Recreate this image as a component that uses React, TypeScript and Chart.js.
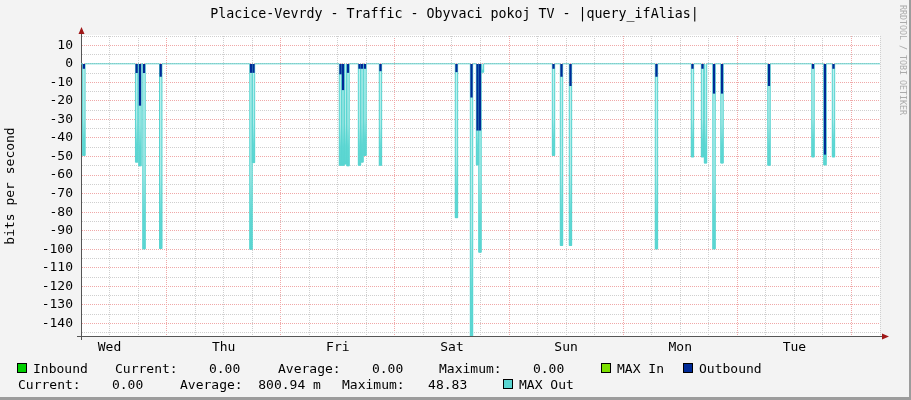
import React, { useEffect, useRef } from 'react';
import { Chart, registerables } from 'chart.js';

Chart.register(...registerables);

// ---------- data ----------
const titleText = 'Placice-Vevrdy - Traffic - Obyvaci pokoj TV - |query_ifAlias|';
const yAxisTitle = 'bits per second';
const watermark = 'RRDTOOL / TOBI OETIKER';
const dayLabels = ['Wed', 'Thu', 'Fri', 'Sat', 'Sun', 'Mon', 'Tue'];

// time axis in hours since Wednesday 00:00
const xMinHours = 6;
const xMaxHours = 174;
const rrdStepHours = 0.5;
const yMin = -146.8;
const yMax = 15;

// hours of the 30-minute samples that carry traffic (all other samples are 0)
const spikeHours = [
  6.6, 17.7, 18.4, 19.25, 22.76,
  41.74, 42.27,
  60.56, 61.09, 61.61, 62.14, 64.56, 65.08, 65.71, 68.97,
  84.95, 88.11, 89.37, 89.89, 90.42,
  105.35, 107.03, 108.92,
  127.0, 134.57, 136.68, 137.31, 139.1, 140.78,
  150.66, 159.91, 162.43, 164.22,
];
// MAX Out (plotted downward), bits per second
const maxOutValues = [
  49.4, 53, 55, 99.8, 99.6,
  100, 53.3,
  54.7, 54.7, 54, 55, 54.7, 53, 49.4, 54.7,
  83, 150, 54.5, 101.6, 4.5,
  49.4, 98, 98,
  99.8, 50.2, 50.2, 53.5, 99.8, 53.5,
  54.7, 50.2, 54.5, 50.2,
];
// Outbound average (plotted downward), bits per second
const outboundValues = [
  2.5, 4.8, 22.4, 4.8, 6.8,
  4.7, 4.7,
  5.5, 14, 0, 4.7, 2.5, 2.5, 2.5, 3.8,
  4.3, 18, 35.8, 35.8, 0,
  2.5, 6.8, 11.8,
  6.8, 2.5, 2.5, 0, 15.9, 15.9,
  11.8, 2.5, 48.8, 2.5,
];

const inboundStats = { current: '0.00', average: '0.00', maximum: '0.00' };
const outboundStats = { current: '0.00', average: '800.94 m', maximum: '48.83' };

// ---------- styles ----------
const MONO = "'DejaVu Sans Mono', monospace";
const C_IN = '#00CF00';
const C_MAXIN = '#7CE000';
const C_OUT = '#002A97';
const C_MAXOUT = '#5AD5D1';
const C_MAXOUT_PALE = '#B2EDEB';
const GRID_MAJOR = '#F0A8A8';
const GRID_MINOR = '#CFCFCF';
const AXIS = '#555555';

const pad = (s: string, n: number) => (s.length >= n ? s : ' '.repeat(n - s.length) + s);

export default function App() {
  const ref = useRef<HTMLCanvasElement | null>(null);

  useEffect(() => {
    document.body.style.margin = '0';
    const canvas = ref.current;
    if (!canvas) return;

    const maxOutBars = spikeHours.map((h, i) => ({ x: h, y: -maxOutValues[i] }));
    const outBars = spikeHours
      .map((h, i) => ({ x: h, y: -outboundValues[i] }))
      .filter((p) => p.y !== 0);
    const maxOutLine: { x: number; y: number }[] = [{ x: xMinHours, y: 0 }];
    spikeHours.forEach((h, i) => {
      maxOutLine.push({ x: h - rrdStepHours / 2, y: -maxOutValues[i] });
      maxOutLine.push({ x: h + rrdStepHours / 2, y: 0 });
    });
    maxOutLine.push({ x: xMaxHours, y: 0 });

    const plotBg = {
      id: 'plotBg',
      beforeDraw(chart: any) {
        const { ctx, chartArea: a } = chart;
        ctx.save();
        ctx.fillStyle = '#ffffff';
        ctx.fillRect(a.left, a.top - 1, a.right - a.left, a.bottom - a.top + 1);
        ctx.restore();
      },
    };

    const arrows = {
      id: 'arrows',
      afterDraw(chart: any) {
        const { ctx, chartArea: a } = chart;
        const xl = Math.round(a.left) + 0.5;
        const yb = Math.round(a.bottom) + 0.5;
        ctx.save();
        ctx.strokeStyle = AXIS;
        ctx.lineWidth = 1;
        ctx.beginPath();
        ctx.moveTo(xl, a.top);
        ctx.lineTo(xl, a.top - 4);
        ctx.moveTo(xl, a.bottom);
        ctx.lineTo(xl, a.bottom + 4);
        ctx.moveTo(a.left - 4, yb);
        ctx.lineTo(a.left, yb);
        ctx.moveTo(a.right, yb);
        ctx.lineTo(a.right + 4, yb);
        ctx.stroke();
        ctx.fillStyle = '#A01818';
        ctx.beginPath();
        ctx.moveTo(xl, a.top - 9);
        ctx.lineTo(xl - 3, a.top - 2);
        ctx.lineTo(xl + 3, a.top - 2);
        ctx.closePath();
        ctx.fill();
        ctx.beginPath();
        ctx.moveTo(a.right + 9, yb);
        ctx.lineTo(a.right + 2, yb - 3);
        ctx.lineTo(a.right + 2, yb + 3);
        ctx.closePath();
        ctx.fill();
        ctx.restore();
      },
    };

    const gradientFill = (c: any) => {
      const chart = c.chart;
      const y = chart.scales && chart.scales.y;
      const raw = c.raw;
      if (!y || !raw) return C_MAXOUT_PALE;
      const y0 = y.getPixelForValue(0);
      const y1 = y.getPixelForValue(raw.y);
      if (!isFinite(y0) || !isFinite(y1) || Math.abs(y1 - y0) < 1) return C_MAXOUT_PALE;
      const g = chart.ctx.createLinearGradient(0, y0, 0, y1);
      g.addColorStop(0, '#C0F1EF');
      g.addColorStop(0.6, '#AAEAE7');
      g.addColorStop(0.82, '#62D8D4');
      g.addColorStop(1, C_MAXOUT);
      return g;
    };

    const chart = new Chart(canvas, {
      type: 'bar',
      data: {
        datasets: [
          {
            type: 'bar',
            label: 'MAX Out area',
            data: maxOutBars,
            backgroundColor: gradientFill,
            borderWidth: 0,
            barThickness: 2.4,
            grouped: false,
            clip: 0,
            order: 3,
          } as any,
          {
            type: 'line',
            label: 'MAX Out',
            data: maxOutLine,
            borderColor: C_MAXOUT,
            borderWidth: 1,
            stepped: true,
            pointRadius: 0,
            fill: false,
            clip: 0,
            order: 2,
          } as any,
          {
            type: 'bar',
            label: 'Outbound',
            data: outBars,
            backgroundColor: C_OUT,
            borderWidth: 0,
            barThickness: 1.6,
            grouped: false,
            clip: 0,
            order: 1,
          } as any,
        ],
      },
      options: {
        responsive: false,
        animation: false,
        devicePixelRatio: 1,
        layout: { padding: { left: 0, right: 31, top: 36, bottom: 0 } },
        plugins: {
          legend: { display: false },
          tooltip: { enabled: false },
          title: { display: false },
        },
        scales: {
          x: {
            type: 'linear',
            min: xMinHours,
            max: xMaxHours,
            offset: false,
            afterFit: (s: any) => {
              s.height = 64;
            },
            grid: {
              offset: false,
              drawTicks: false,
              color: (c: any) =>
                c.tick && Math.round(c.tick.value) % 24 === 0 ? GRID_MAJOR : GRID_MINOR,
              lineWidth: 1,
            },
            border: { display: true, color: AXIS, width: 1, dash: [1, 1] },
            ticks: {
              stepSize: 6,
              autoSkip: false,
              maxRotation: 0,
              includeBounds: false,
              padding: 4,
              color: '#000',
              font: { family: MONO, size: 13 },
              callback: (v: any) => {
                const n = Math.round(Number(v));
                if ((n - 12) % 24 === 0) return dayLabels[(n - 12) / 24] ?? '';
                return '';
              },
            },
          } as any,
          y: {
            type: 'linear',
            min: yMin,
            max: yMax,
            afterFit: (s: any) => {
              s.width = 81;
            },
            title: {
              display: true,
              text: yAxisTitle,
              color: '#000',
              font: { family: MONO, size: 13 },
              padding: { top: 3, bottom: 0 },
            },
            grid: {
              drawTicks: false,
              color: (c: any) =>
                c.tick && Math.round(c.tick.value) % 10 === 0 ? GRID_MAJOR : GRID_MINOR,
              lineWidth: 1,
            },
            border: { display: true, color: AXIS, width: 1, dash: [1, 1] },
            ticks: {
              stepSize: 5,
              autoSkip: false,
              includeBounds: false,
              padding: 8,
              color: '#000',
              font: { family: MONO, size: 13 },
              callback: (v: any) => {
                const n = Math.round(Number(v));
                return n % 10 === 0 ? String(n) : '';
              },
            },
          } as any,
        },
      } as any,
      plugins: [plotBg, arrows],
    });

    return () => {
      chart.destroy();
    };
  }, []);

  const textStyle = (left: number, top: number): React.CSSProperties => ({
    position: 'absolute',
    left,
    top,
    font: `13px/15px ${MONO}`,
    whiteSpace: 'pre',
    color: '#000',
  });
  const box = (left: number, top: number, color: string): React.CSSProperties => ({
    position: 'absolute',
    left,
    top,
    width: 8,
    height: 8,
    background: color,
    border: '1px solid #000',
  });

  const r1 = 361;
  const r2 = 377;

  return (
    <div style={{ position: 'relative', width: 911, height: 400, background: '#F3F3F3', overflow: 'hidden' }}>
      <canvas ref={ref} width={911} height={400} style={{ position: 'absolute', left: 0, top: 0 }} />
      <div
        style={{
          position: 'absolute',
          left: 0,
          top: 6,
          width: 909,
          textAlign: 'center',
          font: `13.3px/15px ${MONO}`,
          color: '#000',
          whiteSpace: 'pre',
        }}
      >
        {titleText}
      </div>
      <div
        style={{
          position: 'absolute',
          left: 898,
          top: 5,
          writingMode: 'vertical-rl',
          font: `8.3px/10px ${MONO}`,
          color: '#ABABAB',
          whiteSpace: 'pre',
        }}
      >
        {watermark}
      </div>

      <div style={box(17, 363, C_IN)} />
      <span style={textStyle(33, r1)}>Inbound</span>
      <span style={textStyle(115, r1)}>{'Current:' + pad(inboundStats.current, 8)}</span>
      <span style={textStyle(278, r1)}>{'Average:' + pad(inboundStats.average, 8)}</span>
      <span style={textStyle(439, r1)}>{'Maximum:' + pad(inboundStats.maximum, 8)}</span>
      <div style={box(601, 363, C_MAXIN)} />
      <span style={textStyle(617, r1)}>MAX In</span>
      <div style={box(683, 363, C_OUT)} />
      <span style={textStyle(699, r1)}>Outbound</span>

      <span style={textStyle(18, r2)}>{'Current:' + pad(outboundStats.current, 8)}</span>
      <span style={textStyle(180, r2)}>{'Average:' + pad(outboundStats.average, 10)}</span>
      <span style={textStyle(342, r2)}>{'Maximum:' + pad(outboundStats.maximum, 8)}</span>
      <div style={box(503, 379, C_MAXOUT)} />
      <span style={textStyle(519, r2)}>MAX Out</span>

      <div style={{ position: 'absolute', left: 909, top: 0, width: 2, height: 400, background: '#9C9C9C' }} />
      <div style={{ position: 'absolute', left: 0, top: 397, width: 911, height: 3, background: '#9C9C9C' }} />
    </div>
  );
}
